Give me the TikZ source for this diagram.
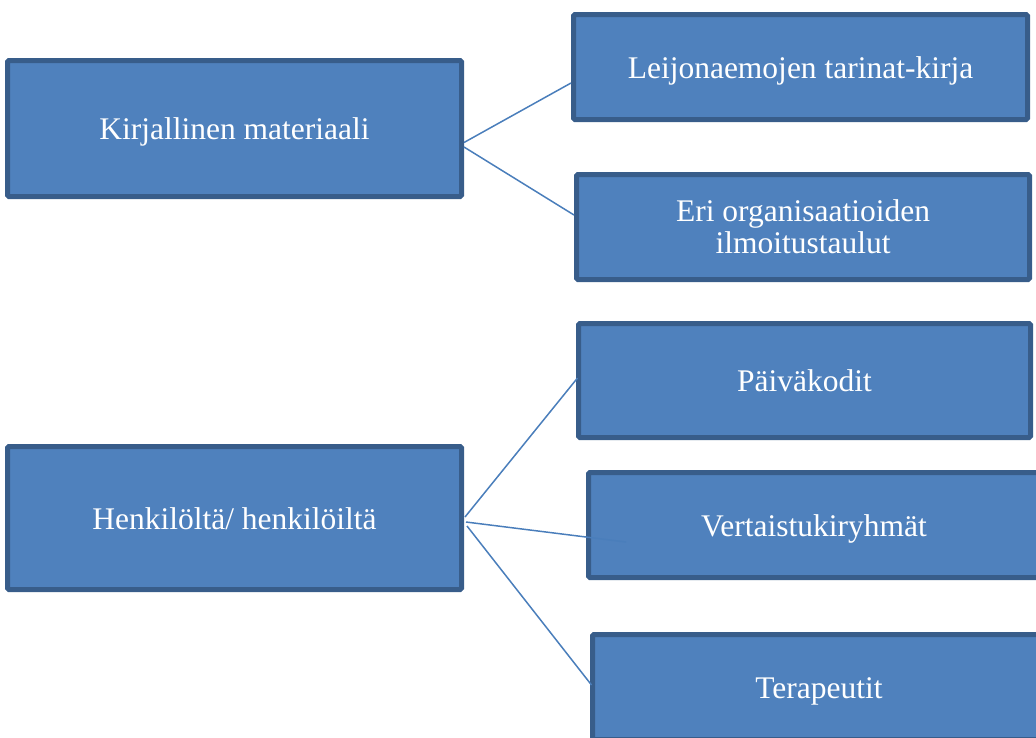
\documentclass[tikz,border=0pt]{standalone}
\usepackage{fontspec}
\setmainfont{Liberation Serif}
\definecolor{boxfill}{HTML}{4F81BD}
\definecolor{boxline}{HTML}{385D8A}
\definecolor{conn}{HTML}{4A7EBB}
\tikzset{
  boxbase/.style={draw=boxline, fill=boxfill, line width=5pt, rounded corners=1.5pt,
    text=white, font=\fontsize{31.5pt}{32.3pt}\selectfont, inner sep=0pt},
  onebox/.style={boxbase, text height=22pt, text depth=0pt},
  twobox/.style={boxbase, align=center},
  connector/.style={draw=conn, line width=1.5pt}
}
\begin{document}
\begin{tikzpicture}[x=1pt, y=-1pt]
\useasboundingbox (0,0) rectangle (1036,737);
\clip (0,0) rectangle (1036,737);
% boxes
\node[onebox, minimum width=454pt, minimum height=136pt] (kirj) at (234.5,128.5) {Kirjallinen materiaali};
\node[onebox, minimum width=454pt, minimum height=105pt] (leij) at (800.5,67) {Leijonaemojen tarinat-kirja};
\node[twobox, minimum width=453pt, minimum height=105pt] (eri) at (803,227) {Eri organisaatioiden\\ilmoitustaulut};
\node[onebox, minimum width=452pt, minimum height=114pt] (paiv) at (804.5,380.5) {Päiväkodit};
\node[onebox, minimum width=454pt, minimum height=143pt] (henk) at (234.5,518) {Henkilöltä/ henkilöiltä};
\node[onebox, minimum width=451pt, minimum height=105pt] (vert) at (814,525) {Vertaistukiryhmät};
\node[onebox, minimum width=453pt, minimum height=105pt] (tera) at (819,687) {Terapeutit};
% connectors
\draw[connector] ([yshift=-14pt]kirj.east) -- ([yshift=-16pt]leij.west);
\draw[connector] ([yshift=-18.5pt]kirj.east) -- ([yshift=12pt]eri.west);
\draw[connector] ([xshift=1pt,yshift=1pt]henk.east) -- ([xshift=1.5pt,yshift=2.5pt]paiv.west);
\draw[connector] ([xshift=2pt,yshift=-4pt]henk.east) -- ([xshift=40pt,yshift=-17pt]vert.west);
\draw[connector] ([xshift=3pt,yshift=-8pt]henk.east) -- ([xshift=1.5pt,yshift=2pt]tera.west);
\end{tikzpicture}
\end{document}
